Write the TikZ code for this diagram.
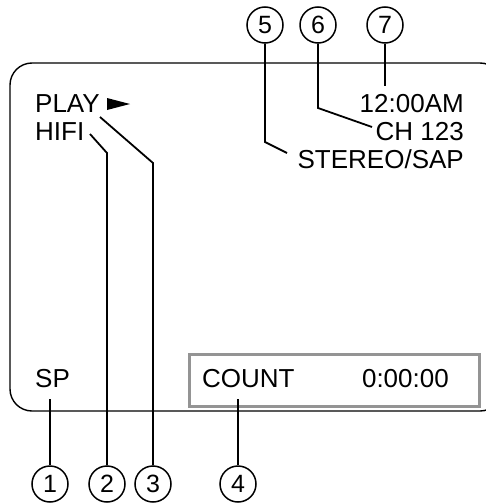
\documentclass[tikz,border=0pt]{standalone}
\usepackage{fontspec}
\setmainfont{Liberation Sans}
\begin{document}
\begin{tikzpicture}[x=1pt,y=-1pt,
  lbl/.style={inner sep=0pt, font=\fontsize{26}{28}\selectfont},
  num/.style={circle, draw, line width=1.5pt, minimum size=36pt, inner sep=0pt, font=\fontsize{25}{26}\selectfont},
  lead/.style={line width=1.8pt, line join=miter},
  screen/.style={line width=1.4pt, rounded corners=22pt},
  countbox/.style={draw=gray!80!black!70, line width=3pt, minimum width=290pt, minimum height=52pt, inner sep=0pt}]
\useasboundingbox (0,0) rectangle (485,503);
% screen outline
\draw[screen] (10,63) rectangle (502,411);
% texts
\node[lbl, anchor=base west] (play) at (35,112) {PLAY};
\fill (107,98) -- (130,104) -- (107,110) -- cycle;
\node[lbl, anchor=base west] (hifi) at (35,140) {HIFI};
\node[lbl, anchor=base west] (sp) at (35,387) {SP};
\node[lbl, anchor=base east] (clock) at (464,112) {12:00AM};
\node[lbl, anchor=base east] (ch) at (464,140) {CH 123};
\node[lbl, anchor=base east] (stereo) at (464,168) {STEREO/SAP};
\node[countbox] (cbox) at (334.5,380) {};
\node[lbl, anchor=base west] (count) at (202,387) {COUNT};
\node[lbl, anchor=base east] (time) at (449,387) {0:00:00};
% numbered circles
\node[num] (n1) at (50,484) {1};
\node[num] (n2) at (107,484) {2};
\node[num] (n3) at (153,484) {3};
\node[num] (n4) at (238,484) {4};
\node[num] (n5) at (265,25) {5};
\node[num] (n6) at (318,25) {6};
\node[num] (n7) at (385,25) {7};
% leader end points
\coordinate (e1) at (50,399);
\coordinate (e2) at (90,134);
\coordinate (b2) at (107,153);
\coordinate (e3) at (100,117);
\coordinate (b3) at (153,163);
\coordinate (e4) at (238,399);
\coordinate (e5) at (287,153);
\coordinate (b5) at (265,142);
\coordinate (e6) at (372,127);
\coordinate (b6) at (318,108);
\coordinate (e7) at (385,86);
% leaders
\draw[lead] (n1.north) -- (e1);
\draw[lead] (n2.north) -- (b2) -- (e2);
\draw[lead] (n3.north) -- (b3) -- (e3);
\draw[lead] (n4.north) -- (e4);
\draw[lead] (n5.south) -- (b5) -- (e5);
\draw[lead] (n6.south) -- (b6) -- (e6);
\draw[lead] (n7.south) -- (e7);
\end{tikzpicture}
\end{document}
